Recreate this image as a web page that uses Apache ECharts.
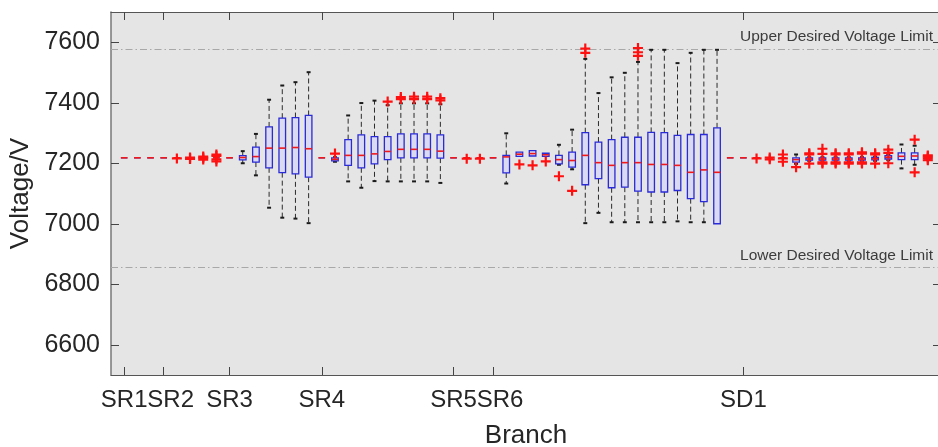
<!DOCTYPE html>
<html><head><meta charset="utf-8">
<script src="https://cdn.jsdelivr.net/npm/echarts@6/dist/echarts.min.js"></script>
<style>html,body{margin:0;padding:0;background:#fff;}#c{width:938px;height:447px;}</style>
</head><body><div id="c"></div>
<script>
// node index of each measured bus (x position)
const nodes = [0,1,2,3,4,5,6,7,8,9,10,11,12,13,14,15,16,17,18,19,20,21,22,23,24,25,26,27,28,29,30,31,32,33,34,35,36,37,38,39,40,41,42,43,44,45,46,47,48,49,50,51,52,53,54,55,56,57,58,59,60,61];
const whiskerLow = [7218,7218,7218,7218,7218,7218,7218,7218,7218,7200,7160,7053,7020,7017,7002,7218,7205,7140,7119,7141,7140,7140,7140,7140,7135,7218,7218,7218,7218,7133,7223,7224,7223,7195,7180,7002,7036,7005,7005,7005,7005,7005,7008,7005,7005,7000,7218,7218,7218,7218,7218,7198,7208,7208,7208,7208,7208,7208,7210,7183,7195,7212];
const q1 = [7218,7218,7218,7218,7218,7218,7218,7218,7218,7211,7204,7185,7169,7165,7154,7218,7208,7193,7185,7198,7212,7218,7218,7218,7217,7218,7218,7218,7218,7168,7223,7224,7223,7198,7187,7129,7149,7119,7121,7108,7105,7105,7110,7083,7073,7000,7218,7218,7218,7218,7218,7204,7210,7210,7210,7210,7210,7211,7214,7212,7212,7214];
const median = [7218,7218,7218,7218,7218,7218,7218,7218,7218,7219,7222,7250,7250,7252,7248,7218,7213,7226,7226,7231,7239,7246,7246,7246,7240,7218,7218,7218,7218,7221,7230,7232,7228,7212,7209,7226,7202,7193,7202,7202,7196,7196,7193,7170,7178,7170,7218,7218,7218,7218,7218,7212,7214,7214,7214,7214,7214,7215,7220,7223,7224,7218];
const q3 = [7218,7218,7218,7218,7218,7218,7218,7218,7218,7225,7253,7320,7349,7351,7358,7218,7218,7278,7294,7288,7288,7297,7297,7297,7294,7218,7218,7218,7218,7226,7237,7242,7233,7226,7237,7301,7270,7278,7286,7286,7302,7301,7292,7295,7295,7317,7218,7218,7218,7218,7218,7218,7218,7218,7218,7218,7218,7219,7225,7234,7234,7222];
const whiskerHigh = [7218,7218,7218,7218,7218,7218,7218,7218,7218,7240,7297,7410,7457,7468,7501,7218,7220,7358,7399,7407,7392,7398,7398,7398,7395,7218,7218,7218,7218,7299,7237,7242,7233,7261,7311,7545,7432,7484,7499,7535,7575,7575,7531,7565,7575,7575,7218,7218,7218,7218,7218,7229,7220,7220,7220,7220,7220,7222,7230,7262,7258,7224];
// outliers (red +)
const outlierNode  = [4,5,5,6,6,6,7,7,7,7,16,20,21,21,22,22,23,23,24,24,26,27,30,31,32,33,34,35,35,39,39,39,48,49,49,50,50,50,51,52,52,52,53,53,53,53,54,54,54,54,55,55,55,55,56,56,56,56,57,57,57,58,58,58,60,60,61,61,61,61];
const outlierValue = [7216,7214,7219,7212,7218,7222,7206,7213,7224,7229,7232,7404,7412,7419,7412,7420,7412,7420,7408,7415,7215,7215,7196,7193,7206,7157,7109,7565,7579,7555,7567,7581,7216,7213,7219,7205,7216,7229,7187,7199,7229,7233,7199,7203,7231,7248,7199,7203,7229,7233,7199,7203,7229,7233,7199,7203,7232,7236,7199,7229,7233,7200,7234,7245,7170,7278,7210,7216,7222,7226];
// branch tick labels
const branchNodes  = [0,3,8,15,25,28,47];
const branchLabels = ['SR1','SR2','SR3','SR4','SR5','SR6','SD1'];
const yTicks = [6600,6800,7000,7200,7400,7600];
const upperLimit = 7577, lowerLimit = 6855;
const xMin = -1, xMax = 62;
// labels nudged right (to avoid crowding), as in the original figure
const nudged = ['SR2','SR6'];

const boxData = nodes.map((n,i)=>[n, whiskerLow[i], q1[i], median[i], q3[i], whiskerHigh[i]]);
const outData = outlierNode.map((n,i)=>[n, outlierValue[i]]);

function renderBox(params, api){
  const x = api.value(0);
  const lo=api.value(1), b1=api.value(2), md=api.value(3), b3=api.value(4), hi=api.value(5);
  const pLo=api.coord([x,lo]), p1=api.coord([x,b1]), pM=api.coord([x,md]), p3=api.coord([x,b3]), pHi=api.coord([x,hi]);
  const unit = api.size([1,0])[0];
  const bw = unit*0.5, cw = unit*0.3;
  const cx = pM[0];
  const ch = [];
  const wStyle = {stroke:'#2b2b2b', lineWidth:1, lineDash:[5,3]};
  const cStyle = {stroke:'#1a1a1a', lineWidth:2};
  if (hi > b3) {
    ch.push({type:'line', shape:{x1:cx,y1:p3[1],x2:cx,y2:pHi[1]}, style:wStyle});
    ch.push({type:'line', shape:{x1:cx-cw/2,y1:pHi[1],x2:cx+cw/2,y2:pHi[1]}, style:cStyle});
  }
  if (lo < b1) {
    ch.push({type:'line', shape:{x1:cx,y1:p1[1],x2:cx,y2:pLo[1]}, style:wStyle});
    ch.push({type:'line', shape:{x1:cx-cw/2,y1:pLo[1],x2:cx+cw/2,y2:pLo[1]}, style:cStyle});
  }
  ch.push({type:'rect', shape:{x:cx-bw/2, y:p3[1], width:bw, height:p1[1]-p3[1]}, style:{fill:'#dadaf2', stroke:'#2a2ad6', lineWidth:1.3}});
  ch.push({type:'line', shape:{x1:cx-bw/2,y1:pM[1],x2:cx+bw/2,y2:pM[1]}, style:{stroke:'#f01818', lineWidth:1.6}});
  return {type:'group', children:ch};
}

const font = 'Liberation Sans, Arial, sans-serif';
const chart = echarts.init(document.getElementById('c'), null, {renderer:'canvas'});
chart.setOption({
  animation:false,
  backgroundColor:'#ffffff',
  grid:{left:111, top:12, right:-3, bottom:72, show:true, backgroundColor:'#e5e5e5', borderWidth:0, containLabel:false, outerBoundsMode:'none'},
  xAxis:[{
    type:'value', min:xMin, max:xMax, position:'bottom',
    name:'Branch', nameLocation:'middle', nameGap:48,
    nameTextStyle:{fontSize:26, color:'#262626', fontFamily:font},
    axisLine:{show:true, onZero:false, lineStyle:{color:'#555', width:1.2}},
    axisTick:{show:true, inside:true, length:8, customValues:branchNodes, lineStyle:{color:'#444'}},
    axisLabel:{show:true, customValues:[xMin].concat(branchNodes), fontSize:24, color:'#262626', fontFamily:font, margin:13, hideOverlap:false,
      rich:{n:{fontSize:24, color:'#262626', fontFamily:font, padding:[0,0,0,14]}},
      formatter:(v)=>{const k=branchNodes.indexOf(v); if(k<0) return ''; const s=branchLabels[k]; return nudged.indexOf(s)>=0 ? '{n|'+s+'}' : s;}},
    splitLine:{show:false}
  },{
    type:'value', min:xMin, max:xMax, position:'top',
    axisLine:{show:true, onZero:false, lineStyle:{color:'#555', width:1.2}},
    axisTick:{show:true, inside:true, length:8, customValues:branchNodes, lineStyle:{color:'#444'}},
    axisLabel:{show:false}, splitLine:{show:false}
  }],
  yAxis:[{
    type:'value', min:6500, max:7700, position:'left',
    name:'Voltage/V', nameLocation:'middle', nameGap:74, nameRotate:90,
    nameTextStyle:{fontSize:26, color:'#262626', fontFamily:font},
    axisLine:{show:true, onZero:false, lineStyle:{color:'#777', width:1.5}},
    axisTick:{show:true, inside:true, length:8, customValues:yTicks, lineStyle:{color:'#444'}},
    axisLabel:{show:true, customValues:yTicks, fontSize:25, color:'#262626', fontFamily:font, margin:11, formatter:(v)=>String(v)},
    splitLine:{show:false}
  },{
    type:'value', min:6500, max:7700, position:'right',
    axisLine:{show:true, onZero:false, lineStyle:{color:'#555'}},
    axisTick:{show:true, inside:true, length:8, customValues:yTicks, lineStyle:{color:'#444'}},
    axisLabel:{show:false}, splitLine:{show:false}
  }],
  series:[{
    type:'custom', xAxisIndex:0, yAxisIndex:0,
    renderItem:renderBox, data:boxData, encode:{x:0, y:[1,2,3,4,5]}, z:3, clip:true
  },{
    type:'scatter', xAxisIndex:0, yAxisIndex:0, data:outData, z:4,
    symbol:'path://M-1.1,-5H1.1V-1.1H5V1.1H1.1V5H-1.1V1.1H-5V-1.1H-1.1Z', symbolSize:10,
    itemStyle:{color:'#ff1010', opacity:1},
    markLine:{
      silent:true, symbol:['none','none'], z:2,
      lineStyle:{type:[7,3,1.5,3], color:'#a8a8a8', width:1},
      label:{show:true, position:'insideEndTop', formatter:'{b}', fontSize:15.5, color:'#3c3c3c', fontFamily:font, distance:[8,4]},
      data:[{yAxis:upperLimit, name:'Upper Desired Voltage Limit'},{yAxis:lowerLimit, name:'Lower Desired Voltage Limit'}]
    }
  }]
});
</script></body></html>
